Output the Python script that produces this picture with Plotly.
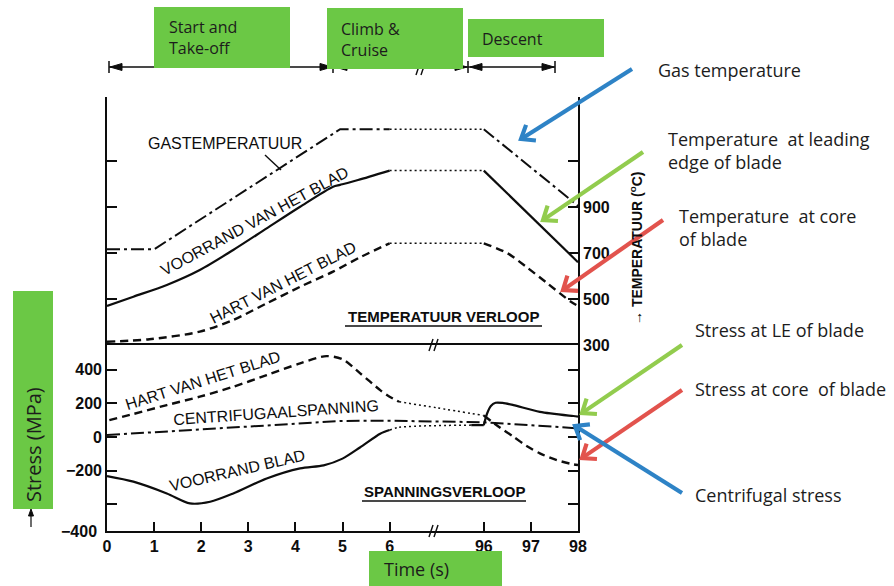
import numpy as np
import plotly.graph_objects as go

# ---------------- data ----------------
# time axis (s); the axis is broken between 6 s and 96 s
tick_times = [0, 1, 2, 3, 4, 5, 6, 96, 97, 98]

# temperature (deg C): gas, leading edge of blade, core of blade
gas_t_rise = [0, 1.0, 4.95, 6]
gas_T_rise = [716, 716, 1238, 1238]
gas_t_cruise = [6, 96]
gas_T_cruise = [1238, 1238]
gas_t_desc = [96, 98]
gas_T_desc = [1238, 905]

le_t_rise = [0, 0.56, 1.27, 1.97, 2.68, 3.39, 4.1, 4.8, 4.95, 5.33, 6]
le_T_rise = [470, 510, 561, 626, 713, 807, 901, 988, 996, 1017, 1058]
le_t_cruise = [6, 96]
le_T_cruise = [1058, 1058]
le_t_desc = [96, 98]
le_T_desc = [1058, 660]

core_t_rise = [0, 0.9, 1.97, 2.68, 3.39, 4.1, 4.8, 5.4, 6]
core_T_rise = [314, 325, 358, 409, 481, 553, 619, 684, 742]
core_t_cruise = [6, 96]
core_T_cruise = [742, 742]
core_t_desc = [96, 96.5, 96.9, 97.35, 97.85, 98]
core_T_desc = [742, 699, 640, 568, 488, 470]

temp_ticks = [300, 500, 700, 900]
temp_minor_ticks = [1100]

# stress (MPa): core of blade, centrifugal, leading edge of blade
core_st_t_rise = [0.05, 0.56, 1.27, 1.97, 2.68, 3.39, 4.1, 4.66, 5.0, 5.37, 5.8, 6, 15]
core_st_rise = [101, 137, 190, 240, 299, 368, 438, 481, 462, 380, 279, 240, 210]
core_st_t_cruise = [15, 51, 96]
core_st_cruise = [210, 174, 128]
core_st_t_desc = [96, 96.34, 96.63, 96.91, 97.19, 97.55, 97.9, 98]
core_st_desc = [128, 57, 2, -53, -97, -137, -162, -166]

cf_t = [0, 2, 4.1, 5, 6, 96, 98]
cf_st = [12, 46, 81, 96, 97, 88, 52]

le_st_t_rise = [0, 0.56, 1.27, 1.76, 2.19, 2.68, 3.39, 4.1, 4.6, 5.0, 5.37, 5.8, 6]
le_st_rise = [-232, -265, -335, -394, -384, -335, -246, -186, -168, -128, -62, 20, 42]
le_st_t_cruise = [6, 15, 84]
le_st_cruise = [42, 58, 71]
le_st_t_flat = [84, 96]
le_st_flat = [71, 71]
le_st_t_desc = [96, 96.07, 96.15, 96.25, 96.4, 96.63, 97.19, 97.9, 98]
le_st_desc = [71, 140, 185, 204, 203, 190, 150, 125, 122]

stress_ticks = [-200, 0, 200, 400]
stress_labels = ["\u2212200", "0", "200", "400"]
stress_minor_ticks = [-400]

# ---------------- styling ----------------
INK = "#0d0d0d"
GREEN_BOX = "#6BC845"
BLUE = "#2E83C6"
LIME = "#92CC4E"
RED = "#E2534D"
SANS = "Liberation Sans, Arial, sans-serif"
OFFICE = "Open Sans, Noto Sans, sans-serif"

DASHDOT = "13px,4px,3px,4px"
DASHED = "8px,5px"
DOTTED = "2px,3px"

W, H = 894, 586
L, R, T, B = 107, 578, 97, 531
SPLIT = 345


def fx(x):
    return (x - L) / (R - L)


def fy(y):
    return (B - y) / (B - T)


def tpos(t):
    """Map time (s) onto the broken axis: 0-6 s as is, 6-96 s squeezed into 2 units."""
    t = np.asarray(t, dtype=float)
    return np.where(t <= 6, t, np.where(t >= 96, t - 88, 6 + (t - 6) * 2 / 90))


fig = go.Figure()


def add_curve(t, v, upper, dash, shape="linear", width=2.0):
    fig.add_trace(go.Scatter(
        x=tpos(t), y=v, mode="lines",
        line=dict(color=INK, width=width, dash=dash, shape=shape, smoothing=0.8),
        xaxis="x" if upper else "x2", yaxis="y" if upper else "y2",
        showlegend=False, hoverinfo="skip"))


# temperature panel
add_curve(gas_t_rise, gas_T_rise, True, DASHDOT)
add_curve(gas_t_cruise, gas_T_cruise, True, DOTTED, width=1.5)
add_curve(gas_t_desc, gas_T_desc, True, DASHDOT)
add_curve(le_t_rise, le_T_rise, True, "solid", "spline", 2.2)
add_curve(le_t_cruise, le_T_cruise, True, DOTTED, width=1.5)
add_curve(le_t_desc, le_T_desc, True, "solid", width=2.2)
add_curve(core_t_rise, core_T_rise, True, DASHED, "spline", 2.4)
add_curve(core_t_cruise, core_T_cruise, True, DOTTED, width=1.5)
add_curve(core_t_desc, core_T_desc, True, DASHED, "spline", 2.4)

# stress panel
add_curve(core_st_t_rise, core_st_rise, False, DASHED, "spline", 2.4)
add_curve(core_st_t_cruise, core_st_cruise, False, DOTTED, "spline", 1.5)
add_curve(core_st_t_desc, core_st_desc, False, DASHED, "spline", 2.4)
add_curve(cf_t, cf_st, False, DASHDOT, "linear", 2.0)
add_curve(le_st_t_rise, le_st_rise, False, "solid", "spline", 2.2)
add_curve(le_st_t_cruise, le_st_cruise, False, DOTTED, "spline", 1.5)
add_curve(le_st_t_flat, le_st_flat, False, "solid", "linear", 2.2)
add_curve(le_st_t_desc, le_st_desc, False, "solid", "spline", 2.2)

split_frac = fy(SPLIT)
tick_font = dict(family=SANS, size=16, color=INK, weight="bold")
axis_common = dict(linecolor=INK, linewidth=1.6, showgrid=False,
                   zeroline=False, tickcolor=INK, tickwidth=1.5, fixedrange=True)
minor_common = dict(ticks="inside", ticklen=10, tickcolor=INK, tickwidth=1.5, showgrid=False)

fig.update_layout(
    width=W, height=H, autosize=False,
    margin=dict(l=L, r=W - R, t=T, b=H - B, pad=0),
    paper_bgcolor="white", plot_bgcolor="white",
    xaxis=dict(domain=[0, 1], anchor="y", range=[0, 10], ticks="", showline=False,
               showticklabels=False, **axis_common),
    yaxis=dict(domain=[split_frac, 1], anchor="x", side="right", showline=True,
               range=[300, 1378], tickvals=temp_ticks,
               ticks="inside", ticklen=10, mirror="ticks", tickfont=tick_font,
               minor=dict(tickvals=temp_minor_ticks, **minor_common),
               **axis_common),
    xaxis2=dict(domain=[0, 1], anchor="y2", range=[0, 10], showline=True,
                tickvals=tpos(tick_times), ticktext=[str(v) for v in tick_times],
                ticks="inside", ticklen=9, mirror=True, tickfont=tick_font,
                **axis_common),
    yaxis2=dict(domain=[0, split_frac], anchor="x2", range=[-558, 547], showline=True,
                tickvals=stress_ticks, ticktext=stress_labels,
                ticks="inside", ticklen=10, mirror="ticks", tickfont=tick_font,
                minor=dict(tickvals=stress_minor_ticks, **minor_common),
                **axis_common),
)

shapes = []


def pt(a, b):
    return f"{fx(a):.5f},{fy(b):.5f}"


def seg(x0, y0, x1, y1, color=INK, width=1.5):
    shapes.append(dict(type="line", xref="paper", yref="paper",
                       x0=fx(x0), y0=fy(y0), x1=fx(x1), y1=fy(y1),
                       line=dict(color=color, width=width), layer="above"))


def tri(pts, color=INK):
    path = "M " + " L ".join(pt(a, b) for a, b in pts) + " Z"
    shapes.append(dict(type="path", xref="paper", yref="paper", path=path,
                       fillcolor=color, line=dict(color=color, width=1), layer="above"))


def box(x0, y0, x1, y1, color=GREEN_BOX):
    shapes.append(dict(type="rect", xref="paper", yref="paper",
                       x0=fx(x0), y0=fy(y0), x1=fx(x1), y1=fy(y1),
                       fillcolor=color, line=dict(width=0), layer="above"))


def slashes(xc, yc, h=6):
    seg(xc - 5, yc + h, xc - 1, yc - h, width=1.4)
    seg(xc, yc + h, xc + 4, yc - h, width=1.4)


def pointer(tip, tail, color, width=4.2, head=15, spread=38):
    """Thick coloured pointer with an open chevron head."""
    tx, ty = tip
    ux, uy = tail[0] - tx, tail[1] - ty
    n = np.hypot(ux, uy)
    ux, uy = ux / n, uy / n
    seg(tx + 2 * ux, ty + 2 * uy, tail[0], tail[1], color=color, width=width)
    arms = []
    for s in (1, -1):
        a = np.radians(spread * s)
        dx = ux * np.cos(a) - uy * np.sin(a)
        dy = ux * np.sin(a) + uy * np.cos(a)
        arms.append((tx + head * dx, ty + head * dy))
    path = f"M {pt(*arms[0])} L {pt(tx, ty)} L {pt(*arms[1])}"
    shapes.append(dict(type="path", xref="paper", yref="paper", path=path,
                       fillcolor="rgba(0,0,0,0)", line=dict(color=color, width=width),
                       layer="above"))


# flight-phase timeline
TL = 67
seg(109, TL, 555, TL, width=1.5)
for xb in (109, 333, 468, 555):
    seg(xb, TL - 6, xb, TL + 6, width=1.5)
for tip, d in ((110, 1), (332, -1), (335, 1), (467, -1), (470, 1), (554, -1)):
    tri([(tip, TL), (tip + 12 * d, TL - 3.5), (tip + 12 * d, TL + 3.5)])
slashes(421, TL + 2)

# axis breaks
slashes(434, SPLIT)
slashes(434, B)

# leader line and underlines
seg(265, 155, 281, 170, width=1.4)
seg(345, 326, 542, 326, width=1.6)
seg(362, 501, 526, 501, width=1.6)

# small arrow under the stress label
seg(31, 527, 31, 514, width=1.2)
tri([(31, 509), (28.5, 516), (33.5, 516)])

# green caption boxes
box(154, 7, 290, 68)
box(327, 8, 463, 69)
box(468, 19, 604, 57)
box(13, 291, 53, 509)
box(369, 551, 502, 586)

# coloured pointers from the explanations to the curves
pointer((521, 139), (632, 69), BLUE)
pointer((543, 220), (643, 152), LIME)
pointer((563, 290), (663, 220), RED)
pointer((582, 413), (682, 345), LIME)
pointer((582, 458), (682, 390), RED)
pointer((575, 426), (682, 493), BLUE)

fig.update_layout(shapes=shapes)

ann = []


def text(s, x, y, size=16, angle=0, family=SANS, color=INK, xanchor="center", align="center"):
    ann.append(dict(text=s, x=fx(x), y=fy(y), xref="paper", yref="paper",
                    showarrow=False, textangle=angle, xanchor=xanchor, yanchor="middle",
                    align=align, font=dict(family=family, size=size, color=color)))


# curve labels
text("GASTEMPERATUUR", 225, 143)
text("VOORRAND VAN HET BLAD", 254, 221, angle=-28.5)
text("HART VAN HET BLAD", 283, 282, angle=-27)
text("<b>TEMPERATUUR VERLOOP</b>", 443, 316, size=15)
text("HART VAN HET BLAD", 203, 380, angle=-17.6)
text("CENTRIFUGAALSPANNING", 276, 412, angle=-4)
text("VOORRAND BLAD", 237, 471, angle=-13)
text("<b>SPANNINGSVERLOOP</b>", 444, 491, size=15)
text("<b>\u2192 TEMPERATUUR (<sup>o</sup>C)</b>", 636, 248, size=14, angle=-90)
text("<b>\u2212400</b>", 99, 531, xanchor="right")

# phase / axis captions
DARK = "#1c1c1c"
text("Start and<br>Take-off", 167, 37.5, size=16, family=OFFICE, color=DARK, xanchor="left", align="left")
text("Climb &<br>Cruise", 339, 39, size=16, family=OFFICE, color=DARK, xanchor="left", align="left")
text("Descent", 480, 39, size=16, family=OFFICE, color=DARK, xanchor="left", align="left")
text("Stress (MPa)", 33, 445, size=20, angle=-90, family=OFFICE, color=DARK)
text("Time (s)", 382, 569, size=18, family=OFFICE, color=DARK, xanchor="left", align="left")

# explanations on the right
side = dict(size=18, family=OFFICE, color=DARK, xanchor="left", align="left")
text("Gas temperature", 656, 70, **side)
text("Temperature  at leading<br>edge of blade", 666, 150, **side)
text("Temperature  at core<br>of blade", 677, 227, **side)
text("Stress at LE of blade", 693, 330, **side)
text("Stress at core  of blade", 693, 389, **side)
text("Centrifugal stress", 693, 495, **side)

fig.update_layout(annotations=ann)

fig.write_html("out.html")
